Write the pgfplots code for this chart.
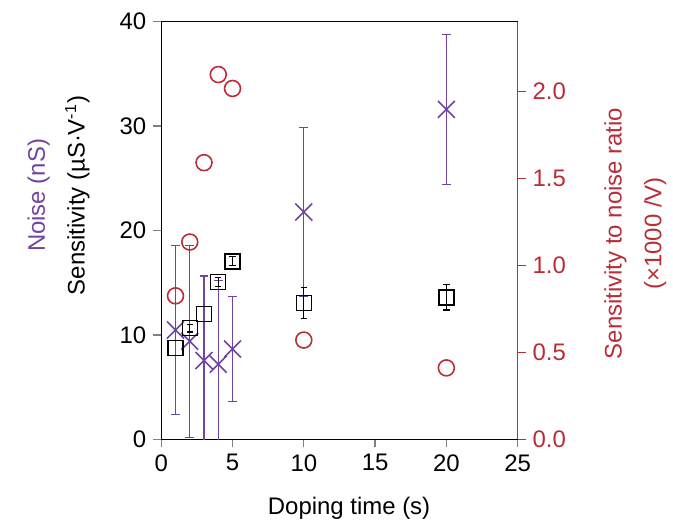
\documentclass[border=0pt]{standalone}
\usepackage{pgfplots}
\pgfplotsset{compat=1.18}
\usepackage{fontspec}
\setmainfont{Liberation Sans}
\definecolor{npurple}{RGB}{112,68,160}
\definecolor{nred}{RGB}{185,45,55}
\begin{document}
\begin{tikzpicture}
\pgfplotsset{
  every axis/.append style={
    scale only axis, width=178.7pt, height=209.5pt,
    xmin=0, xmax=25,
    tick align=outside, major tick length=4pt,
    tick style={line width=0.6pt},
    axis line style={line width=0.6pt},
    /pgf/number format/assume math mode=true,
    tick label style={font=\fontsize{12}{14}\selectfont},
    label style={font=\fontsize{12}{20}\selectfont},
  }
}
\begin{axis}[
  name=main,
  ymin=0, ymax=40,
  xtick={0,5,...,25}, ytick={0,10,...,40},
  xtick pos=bottom, ytick pos=left,
  xlabel={Doping time (s)},
  xlabel style={at={(axis description cs:0.527,-0.165)}, anchor=center},
  ylabel={\textcolor{npurple}{Noise (nS)}\\Sensitivity (µS·V\textsuperscript{-1})},
  ylabel style={align=center, at={(axis description cs:-0.288,0.584)}, anchor=center},
]
% Noise (purple crosses)
\addplot[only marks, mark=x, mark size=6pt, npurple, mark options={line width=0.8pt},
  error bars/.cd, y dir=both, y explicit,
  error bar style={npurple, line width=0.6pt},
  error mark options={rotate=90, mark size=2.2pt, npurple, line width=0.6pt}]
  coordinates {
  (1,10.47) +- (0,8.1)
  (2,9.4) +- (0,9.2)
  (3,7.55) +- (0,8.1)
  (4,7.2) +- (0,8.0)
  (5,8.66) +- (0,5.0)
  (10,21.77) +- (0,8.1)
  (20,31.6) +- (0,7.2)
};
% Sensitivity (black squares) with visible error bars
\addplot[only marks, mark=square, mark size=3.75pt, black, mark options={line width=0.7pt},
  error bars/.cd, y dir=both, y explicit,
  error bar style={black, line width=0.6pt},
  error mark options={rotate=90, mark size=1.6pt, black, line width=0.6pt}]
  coordinates {
  (2,10.65) +- (0,0.37)
  (4,15.05) +- (0,0.43)
  (5,17.05) +- (0,0.43)
  (10,13.05) +- (0,1.5)
  (20,13.6) +- (0,1.2)
};
% Sensitivity points whose error bars are hidden by the marker
\addplot[only marks, mark=square, mark size=3.75pt, black, mark options={line width=0.7pt}]
  coordinates {
  (1,8.75)
  (3,12.0)
};
\end{axis}
\begin{axis}[
  ymin=0, ymax=2.4,
  axis x line=none,
  axis y line*=right,
  y axis line style={nred, line width=0.6pt},
  ytick={0,0.5,...,2.0},
  ytick style={nred, line width=0.6pt},
  yticklabel style={nred, /pgf/number format/.cd, fixed, fixed zerofill, precision=1},
  ylabel={Sensitivity to noise ratio\\(×1000 /V)},
  ylabel style={nred, align=center, at={(axis description cs:1.33,0.493)}, anchor=center, rotate=0},
]
\addplot[only marks, mark=o, mark size=4pt, nred, mark options={line width=0.8pt}]
  coordinates {
  (1,0.825)
  (2,1.134)
  (3,1.59)
  (4,2.096)
  (5,2.016)
  (10,0.571)
  (20,0.411)
};
\end{axis}
\path ([shift={(-80.85pt,10.85pt)}]main.north west) ([shift={(77pt,-43.15pt)}]main.south east);
\end{tikzpicture}
\end{document}
